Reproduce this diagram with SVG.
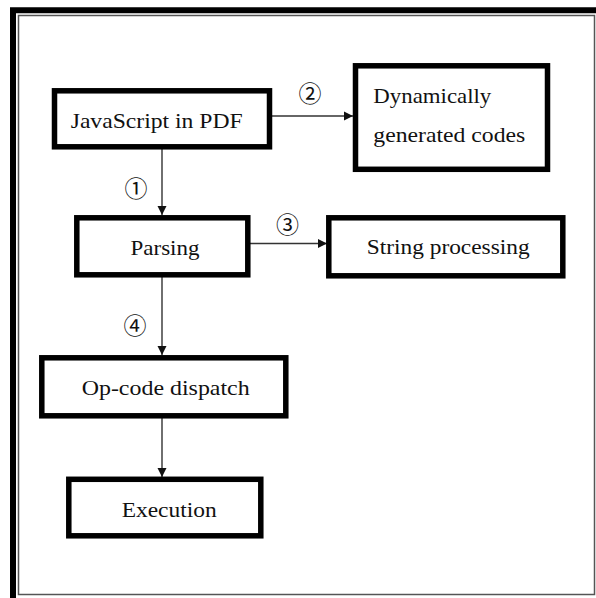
<svg xmlns="http://www.w3.org/2000/svg" width="596" height="598" viewBox="0 0 596 598">
<style>
.box{fill:#fff;stroke:#000;stroke-width:5.5}
.lbl{font-family:"Liberation Serif","Times New Roman",serif;font-size:22px;fill:#111}
.num{font-family:"Noto Sans CJK JP","DejaVu Sans",sans-serif;font-size:23px;fill:#111;text-anchor:middle;dominant-baseline:central}
.edge{stroke:#333;stroke-width:1.4;fill:none;marker-end:url(#ah)}
</style>
<defs>
<marker id="ah" markerUnits="userSpaceOnUse" markerWidth="10" markerHeight="10" refX="9" refY="5" orient="auto">
<path d="M0,0.5 L9,5 L0,9.5 Z" fill="#111"/>
</marker>
</defs>
<rect width="596" height="598" fill="#fff"/>
<g id="frame">
<path d="M13,598 V10.3 H596" fill="none" stroke="#000" stroke-width="6"/>
<rect x="18.5" y="15.5" width="576" height="579" fill="none" stroke="#555" stroke-width="1.5"/>
</g>
<g id="connectors">
<path class="edge" d="M272,116 H353"/>
<path class="edge" d="M162,149 V215"/>
<path class="edge" d="M250,243.5 H327"/>
<path class="edge" d="M162,277 V355"/>
<path class="edge" d="M162,418 V477"/>
<text class="num" x="310" y="92">②</text>
<text class="num" x="136" y="187">①</text>
<text class="num" x="287.5" y="223">③</text>
<text class="num" x="135" y="324">④</text>
</g>
<g id="n1"><rect class="box" x="54.5" y="90.8" width="215" height="56"/><text class="lbl" x="70.7" y="128" textLength="172" lengthAdjust="spacingAndGlyphs">JavaScript in PDF</text></g>
<g id="n2"><rect class="box" x="355.5" y="65.8" width="192" height="103.5"/><text class="lbl" x="373.3" y="103" textLength="118" lengthAdjust="spacingAndGlyphs">Dynamically</text><text class="lbl" x="373.3" y="142" textLength="152" lengthAdjust="spacingAndGlyphs">generated codes</text></g>
<g id="n3"><rect class="box" x="76.8" y="217.8" width="171" height="57"/><text class="lbl" x="130.5" y="255" textLength="69" lengthAdjust="spacingAndGlyphs">Parsing</text></g>
<g id="n4"><rect class="box" x="328.8" y="217.8" width="234" height="58"/><text class="lbl" x="366.7" y="254" textLength="163" lengthAdjust="spacingAndGlyphs">String processing</text></g>
<g id="n5"><rect class="box" x="41.8" y="357.8" width="244" height="58"/><text class="lbl" x="81.7" y="394.5" textLength="168" lengthAdjust="spacingAndGlyphs">Op-code dispatch</text></g>
<g id="n6"><rect class="box" x="68.8" y="479.3" width="192" height="56.5"/><text class="lbl" x="121.7" y="517" textLength="95" lengthAdjust="spacingAndGlyphs">Execution</text></g>
</svg>
